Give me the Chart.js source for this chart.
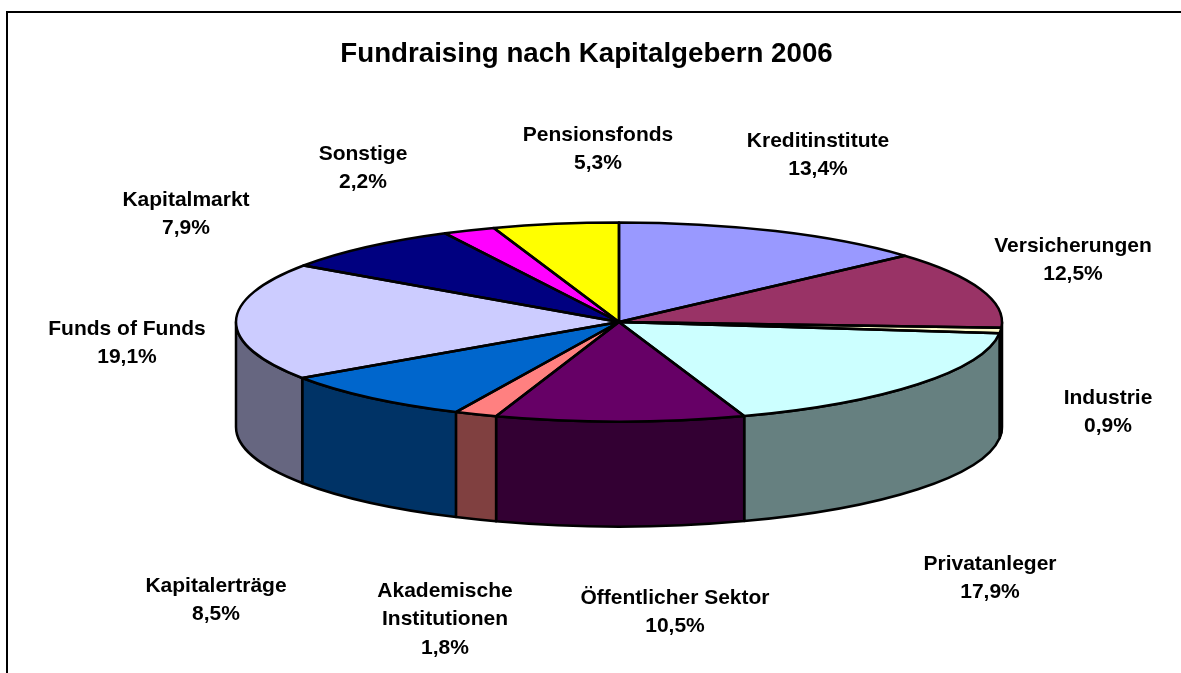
<!DOCTYPE html>
<html lang="de">
<head>
<meta charset="utf-8">
<title>Fundraising nach Kapitalgebern 2006</title>
<script src="https://cdn.jsdelivr.net/npm/chart.js@4/dist/chart.umd.min.js"></script>
<style>
  html, body { margin: 0; padding: 0; background: #fff; overflow: hidden; }
  #frame {
    position: absolute; left: 6px; top: 11px; width: 1175px; height: 662px;
    box-sizing: border-box; border-top: 2px solid #000; border-left: 2px solid #000;
  }
  #wrap { position: absolute; left: 0; top: 0; width: 1173px; height: 673px; }
</style>
</head>
<body>
<div id="frame"></div>
<div id="wrap"><canvas id="chart"></canvas></div>
<script>
/* ──── Données ────────────────────────────────────────── */

const categories = [
  'Kreditinstitute', 'Versicherungen', 'Industrie', 'Privatanleger',
  'Öffentlicher Sektor', 'Akademische Institutionen', 'Kapitalerträge',
  'Funds of Funds', 'Kapitalmarkt', 'Sonstige', 'Pensionsfonds',
];
const shares = [13.4, 12.5, 0.9, 17.9, 10.5, 1.8, 8.5, 19.1, 7.9, 2.2, 5.3];

const topColors  = ['#9999ff', '#993366', '#ffffcc', '#ccffff', '#660066', '#ff8080', '#0066cc', '#ccccff', '#000080', '#ff00ff', '#ffff00'];
const sideColors = ['#4d4d80', '#4d1a33', '#808066', '#668080', '#330033', '#804040', '#003366', '#666680', '#000040', '#800080', '#808000'];

/* ──── Mise en page du camembert 3D ───────────────────── */

const PIE_X = 619, PIE_Y = 322, PIE_R = 383;
const SQUASH = 0.26;
const DEPTH = 105;
const LINE_H = 28.5;
const STROKE = 2.5;

// centre x / first line y of each label, same order as categories
const labelX = [818, 1073, 1108, 990, 675, 445, 216, 127, 186, 363, 598];
const labelY = [141, 246, 398, 564, 598, 591, 586, 329, 200, 154, 135];
const labelLines = [
  ['Kreditinstitute'], ['Versicherungen'], ['Industrie'], ['Privatanleger'],
  ['Öffentlicher Sektor'], ['Akademische', 'Institutionen'], ['Kapitalerträge'],
  ['Funds of Funds'], ['Kapitalmarkt'], ['Sonstige'], ['Pensionsfonds'],
];

const pie3d = {
  id: 'pie3d',

  // outer wall first, then the top face gets squashed onto it
  beforeDatasetDraw(chart) {
    const ctx = chart.ctx;
    const arcs = chart.getDatasetMeta(0).data;
    const ry = PIE_R * SQUASH;

    ctx.save();
    ctx.lineWidth = STROKE;
    ctx.strokeStyle = '#000';
    ctx.lineJoin = 'round';
    arcs.forEach((arc, i) => {
      const a0 = Math.max(arc.startAngle, 0);
      const a1 = Math.min(arc.endAngle, Math.PI);
      if (a1 <= a0) return;
      ctx.beginPath();
      ctx.ellipse(PIE_X, PIE_Y, arc.outerRadius, ry, 0, a0, a1);
      ctx.ellipse(PIE_X, PIE_Y + DEPTH, arc.outerRadius, ry, 0, a1, a0, true);
      ctx.closePath();
      ctx.fillStyle = sideColors[i];
      ctx.fill();
      ctx.stroke();
    });
    ctx.restore();

    const first = arcs[0];
    ctx.save();
    ctx.translate(PIE_X, PIE_Y);
    ctx.scale(1, SQUASH);
    ctx.translate(-first.x, -first.y);
  },

  afterDatasetDraw(chart) {
    const ctx = chart.ctx;
    ctx.restore();

    // outlines here so the stroke keeps its width
    const ry = PIE_R * SQUASH;
    ctx.save();
    ctx.lineWidth = STROKE;
    ctx.strokeStyle = '#000';
    ctx.lineJoin = 'round';
    chart.getDatasetMeta(0).data.forEach(arc => {
      ctx.beginPath();
      ctx.moveTo(PIE_X, PIE_Y);
      ctx.ellipse(PIE_X, PIE_Y, arc.outerRadius, ry, 0, arc.startAngle, arc.endAngle);
      ctx.closePath();
      ctx.stroke();
    });
    ctx.restore();
  },

  afterDraw(chart) {
    const ctx = chart.ctx;
    ctx.save();
    ctx.font = 'bold 21px "Liberation Sans", Arial, sans-serif';
    ctx.fillStyle = '#000';
    ctx.textAlign = 'center';
    ctx.textBaseline = 'middle';
    categories.forEach((name, i) => {
      const lines = labelLines[i].concat(shares[i].toFixed(1).replace('.', ',') + '%');
      lines.forEach((line, n) => ctx.fillText(line, labelX[i], labelY[i] + n * LINE_H));
    });
    ctx.restore();
  },
};

new Chart(document.getElementById('chart'), {
  type: 'pie',
  data: {
    labels: categories,
    datasets: [{
      data: shares,
      backgroundColor: topColors,
      borderWidth: 0,
      radius: PIE_R,
      clip: false,
    }],
  },
  options: {
    responsive: true,
    maintainAspectRatio: false,
    animation: false,
    events: [],
    plugins: {
      legend: { display: false },
      tooltip: { enabled: false },
      title: {
        display: true,
        text: 'Fundraising nach Kapitalgebern 2006',
        color: '#000',
        font: { family: '"Liberation Sans", Arial, sans-serif', size: 27.7, weight: 'bold' },
        padding: { top: 38, bottom: 10 },
      },
    },
  },
  plugins: [pie3d],
});
</script>
</body>
</html>
